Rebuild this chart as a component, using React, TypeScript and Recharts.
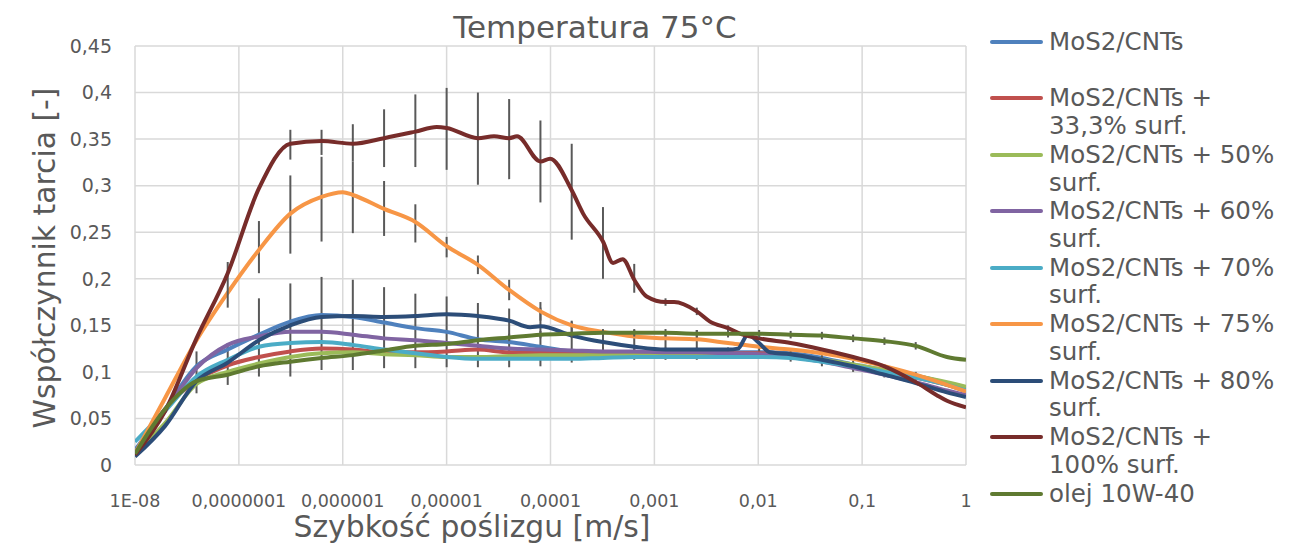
import { LineChart, Line, XAxis, YAxis, CartesianGrid, ErrorBar, Legend } from "recharts";

const FONT = "'DejaVu Sans', Verdana, sans-serif";
const TEXT = "#595959";

// sliding speed grid [m/s] shared by most series
const speeds = [
  1e-8, 1.95e-8, 3.91e-8, 7.81e-8, 1.56e-7, 3.13e-7, 6.25e-7, 1.25e-6, 2.5e-6, 5e-6,
  1e-5, 2e-5, 4e-5, 8e-5, 1.6e-4, 3.2e-4, 6.4e-4, 1.28e-3, 2.56e-3, 5.12e-3,
  1.02e-2, 2.05e-2, 4.1e-2, 8.19e-2, 0.164, 0.328, 0.655, 1,
];

type Err = number | [number, number] | null;

const mos2 = [0.016, 0.06, 0.106, 0.124, 0.14, 0.154, 0.161, 0.159, 0.153, 0.147, 0.143, 0.135, 0.132, 0.127, 0.122, 0.121, 0.121, 0.121, 0.121, 0.121, 0.121, 0.12, 0.115, 0.108, 0.102, 0.096, 0.088, 0.082];
const mos2Err: Err[] = [null, null, [0.029, 0.016], [0.038, 0.007], [0.045, 0.039], [0.059, 0.041], [0.059, 0.041], [0.057, 0.04], [0.049, 0.038], [0.043, 0.037], [0.038, 0.038], [0.03, 0.039], [0.027, 0.036], [0.021, 0.042], [0.012, 0.032], [0.008, 0.02], [0.008, 0.024], [0.008, 0.02], [0.008, 0.024], [0.004, 0.005], null, null, null, null, null, null, null, null];

const s333 = [0.012, 0.06, 0.091, 0.107, 0.116, 0.122, 0.125, 0.124, 0.121, 0.121, 0.122, 0.124, 0.121, 0.121, 0.12, 0.12, 0.12, 0.12, 0.12, 0.12, 0.12, 0.117, 0.112, 0.106, 0.1, 0.094, 0.086, 0.079];
const s333Err: Err[] = [null, null, null, null, null, null, null, null, null, null, null, null, null, null, null, 0.006, 0.006, 0.006, 0.006, 0.006, 0.006, 0.006, 0.006, 0.006, 0.006, 0.006, null, null];

const s50 = [0.012, 0.045, 0.087, 0.1, 0.109, 0.116, 0.12, 0.121, 0.119, 0.118, 0.116, 0.116, 0.117, 0.118, 0.118, 0.118, 0.118, 0.118, 0.118, 0.118, 0.118, 0.117, 0.113, 0.108, 0.102, 0.096, 0.089, 0.084];
const s60 = [0.012, 0.058, 0.104, 0.129, 0.138, 0.143, 0.143, 0.14, 0.136, 0.134, 0.131, 0.128, 0.125, 0.124, 0.123, 0.122, 0.122, 0.121, 0.121, 0.12, 0.119, 0.116, 0.111, 0.104, 0.097, 0.089, 0.08, 0.075];
const s70 = [0.025, 0.058, 0.095, 0.113, 0.127, 0.131, 0.132, 0.129, 0.124, 0.12, 0.116, 0.114, 0.114, 0.114, 0.114, 0.115, 0.116, 0.116, 0.116, 0.116, 0.116, 0.115, 0.111, 0.106, 0.1, 0.094, 0.086, 0.08];

const s75Speeds = [1e-8, 1.95e-8, 3.91e-8, 7.81e-8, 1.56e-7, 3.13e-7, 6.25e-7, 1e-6, 1.25e-6, 2.5e-6, 5e-6, 1e-5, 2e-5, 4e-5, 8e-5, 1.6e-4, 3.2e-4, 6.4e-4, 1.28e-3, 2.56e-3, 5.12e-3, 1.02e-2, 2.05e-2, 4.1e-2, 8.19e-2, 0.164, 0.328, 0.655, 1];
const s75 = [0.012, 0.072, 0.134, 0.185, 0.231, 0.27, 0.288, 0.293, 0.29, 0.275, 0.261, 0.235, 0.215, 0.188, 0.165, 0.15, 0.143, 0.138, 0.136, 0.135, 0.131, 0.127, 0.124, 0.12, 0.114, 0.106, 0.097, 0.086, 0.079];
const s75Err: Err[] = [null, null, null, null, [0.025, 0.031], [0.043, 0.041], [0.048, 0.043], null, [0.041, 0.036], [0.029, 0.03], [0.022, 0.019], [0.012, 0.01], 0.01, 0.011, 0.01, 0.005, null, null, null, null, null, null, null, null, null, null, null, null, null];

const s80Speeds = [1e-8, 1.95e-8, 3.91e-8, 7.81e-8, 1.56e-7, 3.13e-7, 6.25e-7, 1.25e-6, 2.5e-6, 5e-6, 1e-5, 2e-5, 4e-5, 6.36e-5, 8e-5, 1.6e-4, 3.2e-4, 6.4e-4, 1.28e-3, 2.56e-3, 5.12e-3, 6.38e-3, 7.96e-3, 1.02e-2, 1.3e-2, 2.05e-2, 4.1e-2, 8.19e-2, 0.164, 0.328, 0.655, 1];
const s80 = [0.009, 0.042, 0.09, 0.11, 0.134, 0.15, 0.159, 0.16, 0.159, 0.16, 0.162, 0.16, 0.155, 0.148, 0.149, 0.139, 0.132, 0.127, 0.124, 0.124, 0.124, 0.125, 0.14, 0.131, 0.121, 0.119, 0.113, 0.106, 0.097, 0.088, 0.078, 0.073];

const s100Speeds = [1e-8, 1.95e-8, 3.91e-8, 7.81e-8, 1.56e-7, 3.13e-7, 6.25e-7, 1.25e-6, 2.5e-6, 5e-6, 8.03e-6, 1e-5, 2e-5, 2.86e-5, 4e-5, 4.76e-5, 8e-5, 9.9e-5, 1.6e-4, 2.06e-4, 3.2e-4, 4e-4, 4.95e-4, 6.4e-4, 8.43e-4, 1.28e-3, 1.55e-3, 2.56e-3, 3.43e-3, 5.12e-3, 7.13e-3, 1.02e-2, 2.05e-2, 4.1e-2, 8.19e-2, 0.164, 0.328, 0.523, 0.655, 1];
const s100 = [0.011, 0.058, 0.136, 0.206, 0.297, 0.345, 0.348, 0.345, 0.351, 0.358, 0.363, 0.362, 0.351, 0.353, 0.351, 0.353, 0.326, 0.329, 0.295, 0.27, 0.24, 0.217, 0.221, 0.199, 0.181, 0.175, 0.175, 0.165, 0.154, 0.147, 0.14, 0.136, 0.131, 0.124, 0.116, 0.106, 0.089, 0.075, 0.069, 0.062];
const s100Err: Err[] = [null, null, null, [0.037, 0.012], null, [0.017, 0.015], [0.015, 0.012], [0.019, 0.021], [0.031, 0.031], [0.038, 0.04], null, [0.045, 0.043], [0.05, 0.049], null, [0.044, 0.042], null, [0.044, 0.044], null, [0.053, 0.05], null, [0.04, 0.037], null, null, [0.014, 0.017], null, 0.004, null, 0.004, null, 0.003, null, null, null, null, null, null, null, null, null, null];

const oil = [0.012, 0.06, 0.09, 0.097, 0.106, 0.111, 0.115, 0.118, 0.123, 0.128, 0.13, 0.134, 0.137, 0.14, 0.141, 0.142, 0.142, 0.142, 0.141, 0.141, 0.141, 0.14, 0.139, 0.136, 0.133, 0.128, 0.116, 0.113];
const oilErr: Err[] = [null, null, null, null, null, null, null, null, null, null, null, null, 0.004, 0.004, 0.004, 0.004, 0.004, 0.004, 0.004, 0.004, 0.004, 0.004, 0.004, 0.004, 0.004, 0.004, null, null];

const xTicks = [1e-8, 1e-7, 1e-6, 1e-5, 1e-4, 1e-3, 1e-2, 1e-1, 1];
const xTickLabels = ["1E-08", "0,0000001", "0,000001", "0,00001", "0,0001", "0,001", "0,01", "0,1", "1"];
const yTicks = [0, 0.05, 0.1, 0.15, 0.2, 0.25, 0.3, 0.35, 0.4, 0.45];

const toPoints = (xs: number[], ys: number[], errs?: Err[]) =>
  xs.map((x, i) => ({ x, y: ys[i], err: errs ? errs[i] ?? undefined : undefined }));

const series = [
  { name: "MoS2/CNTs", label: "MoS2/CNTs", color: "#4f81bd", data: toPoints(speeds, mos2, mos2Err) },
  { name: "MoS2/CNTs + 33,3% surf.", label: "MoS2/CNTs +\n33,3% surf.", color: "#c0504d", data: toPoints(speeds, s333, s333Err) },
  { name: "MoS2/CNTs + 50% surf.", label: "MoS2/CNTs + 50%\nsurf.", color: "#9bbb59", data: toPoints(speeds, s50) },
  { name: "MoS2/CNTs + 60% surf.", label: "MoS2/CNTs + 60%\nsurf.", color: "#8064a2", data: toPoints(speeds, s60) },
  { name: "MoS2/CNTs + 70% surf.", label: "MoS2/CNTs + 70%\nsurf.", color: "#4bacc6", data: toPoints(speeds, s70) },
  { name: "MoS2/CNTs + 75% surf.", label: "MoS2/CNTs + 75%\nsurf.", color: "#f79646", data: toPoints(s75Speeds, s75, s75Err) },
  { name: "MoS2/CNTs + 80% surf.", label: "MoS2/CNTs + 80%\nsurf.", color: "#2c4d78", data: toPoints(s80Speeds, s80) },
  { name: "MoS2/CNTs + 100% surf.", label: "MoS2/CNTs +\n100% surf.", color: "#772c2a", data: toPoints(s100Speeds, s100, s100Err) },
  { name: "olej 10W-40", label: "olej 10W-40", color: "#5f7a31", data: toPoints(speeds, oil, oilErr) },
];

const LegendBox = () => (
  <div style={{ fontFamily: FONT, fontSize: 24.5, color: TEXT }}>
    {series.map((s) => (
      <div key={s.name} style={{ display: "flex", height: 56.45 }}>
        <div style={{ width: 53, height: 4, background: s.color, marginTop: 12, flexShrink: 0, borderRadius: 2 }} />
        <div style={{ marginLeft: 6, lineHeight: "27.7px", whiteSpace: "pre" }}>{s.label}</div>
      </div>
    ))}
  </div>
);

export default function App() {
  return (
    <div style={{ position: "absolute", left: 0, top: 0, width: 1307, height: 544, background: "#fff" }}>
      <div
        style={{
          position: "absolute", left: 0, width: 1190, top: 9, textAlign: "center",
          fontFamily: FONT, fontSize: 31, color: TEXT, lineHeight: "36px",
        }}
      >
        Temperatura 75°C
      </div>
      <LineChart width={1307} height={544} margin={{ top: 46, right: 341, bottom: 0, left: 0 }}>
        <CartesianGrid stroke="#d9d9d9" strokeWidth={1.5} />
        <XAxis
          dataKey="x"
          type="number"
          scale="log"
          domain={[1e-8, 1]}
          allowDataOverflow
          ticks={xTicks}
          tickFormatter={(v: number) => xTickLabels[Math.round(Math.log10(v)) + 8]}
          height={79}
          tickSize={0}
          tickMargin={30}
          axisLine={false}
          tickLine={false}
          interval={0}
          tick={{ fill: TEXT, fontSize: 17.5, fontFamily: FONT }}
          label={{
            content: () => (
              <text x={472} y={537} textAnchor="middle" fill={TEXT} fontSize={29.8} fontFamily={FONT}>
                Szybkość poślizgu [m/s]
              </text>
            ),
          }}
        />
        <YAxis
          type="number"
          domain={[0, 0.45]}
          ticks={yTicks}
          interval={0}
          width={135}
          tickSize={0}
          tickMargin={23}
          axisLine={false}
          tickLine={false}
          tickFormatter={(v: number) => String(v).replace(".", ",")}
          tick={{ fill: TEXT, fontSize: 19, fontFamily: FONT }}
          label={{
            content: () => (
              <text x={55} y={258} transform="rotate(-90 55 258)" textAnchor="middle" fill={TEXT} fontSize={29.8} fontFamily={FONT}>
                Współczynnik tarcia [-]
              </text>
            ),
          }}
        />
        {series.map((s) => (
          <Line
            key={s.name}
            name={s.name}
            data={s.data}
            dataKey="y"
            type="monotone"
            stroke={s.color}
            strokeWidth={4}
            dot={false}
            activeDot={false}
            isAnimationActive={false}
          >
            <ErrorBar dataKey="err" direction="y" width={0} stroke="#595959" strokeWidth={2} isAnimationActive={false} />
          </Line>
        ))}
        <Legend
          layout="vertical"
          align="center"
          verticalAlign="middle"
          wrapperStyle={{ left: 990, top: 28, width: 317, height: 515 }}
          content={() => <LegendBox />}
        />
      </LineChart>
    </div>
  );
}
